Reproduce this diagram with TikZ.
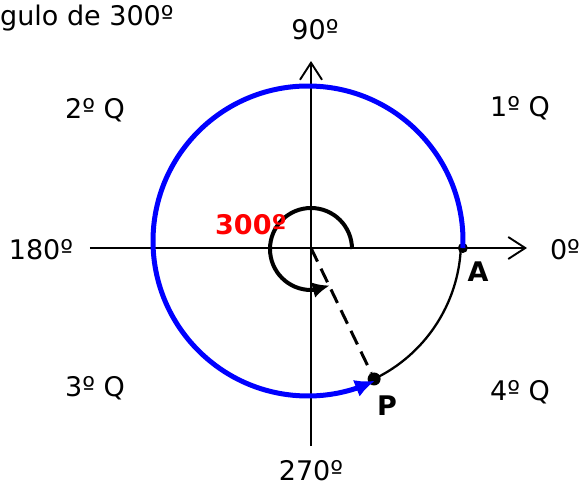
\documentclass[tikz,border=0pt]{standalone}
\usepackage{fontspec}
\setmainfont{DejaVu Sans}
\usepackage{tikz}
\usetikzlibrary{arrows.meta,bending,positioning,calc}

\begin{document}
\begin{tikzpicture}[
  x=1pt, y=1pt,
  font=\fontsize{27}{31}\selectfont,
  lbl/.style={inner sep=0pt},
  bold/.style={lbl, font=\fontsize{27}{31}\selectfont\bfseries},
  axis/.style={line width=2.3pt, -{Straight Barb[length=17pt, width=22pt, line width=1.9pt]}},
  dot/.style={circle, fill=black, inner sep=0pt, minimum size=#1},
  arr/.style={-{Latex[length=20pt, width=18pt, flex]}}
]
\useasboundingbox (-311,-240) rectangle (269,248);

% axes
\coordinate (O) at (0,0);
\coordinate (xl) at (-221,0);
\coordinate (xr) at (216,0);
\coordinate (yb) at (0,-198);
\coordinate (yt) at (0,187);
\draw[axis] (xl) -- (xr);
\draw[axis] (yb) -- (yt);

% circle
\coordinate (C) at (-3,7);
\node[dot=10pt] (A) at ($(C)+(-2.6:155)$) {};
\node[dot=13pt] (P) at ($(C)+(-64.4:153)$) {};
\draw[line width=2.3pt] (P.center) arc[start angle=-64.4, end angle=-2.6, radius=153];
\draw[blue, line width=5pt, arr] (A.center) arc[start angle=-2.6, end angle=295.6, radius=155];
\draw[line width=3pt, dash pattern=on 15pt off 8pt] (O) -- (P);

% angle mark
\draw[line width=4pt, -{Latex[length=17pt, width=16pt, flex]}] (41,-1) arc[start angle=0, end angle=297, radius=41];

% labels
\node[lbl, anchor=west] (tit) at (-311,230) {gulo de 300º};
\node[lbl] (n90) at (4,218) {90º};
\node[lbl] (n0) at (254,-2) {0º};
\node[lbl] (n180) at (-270,-2) {180º};
\node[lbl] (n270) at (0,-223) {270º};
\node[lbl] (q2) at (-216,138) {2º Q};
\node[lbl] (q1) at (209,140) {1º Q};
\node[lbl] (q3) at (-216,-140) {3º Q};
\node[lbl] (q4) at (209,-144) {4º Q};
\node[bold, red] (ang) at (-60,23) {300º};
\node[bold] (la) at (167,-24) {A};
\node[bold] (lp) at (76,-158) {P};
\end{tikzpicture}
\end{document}
